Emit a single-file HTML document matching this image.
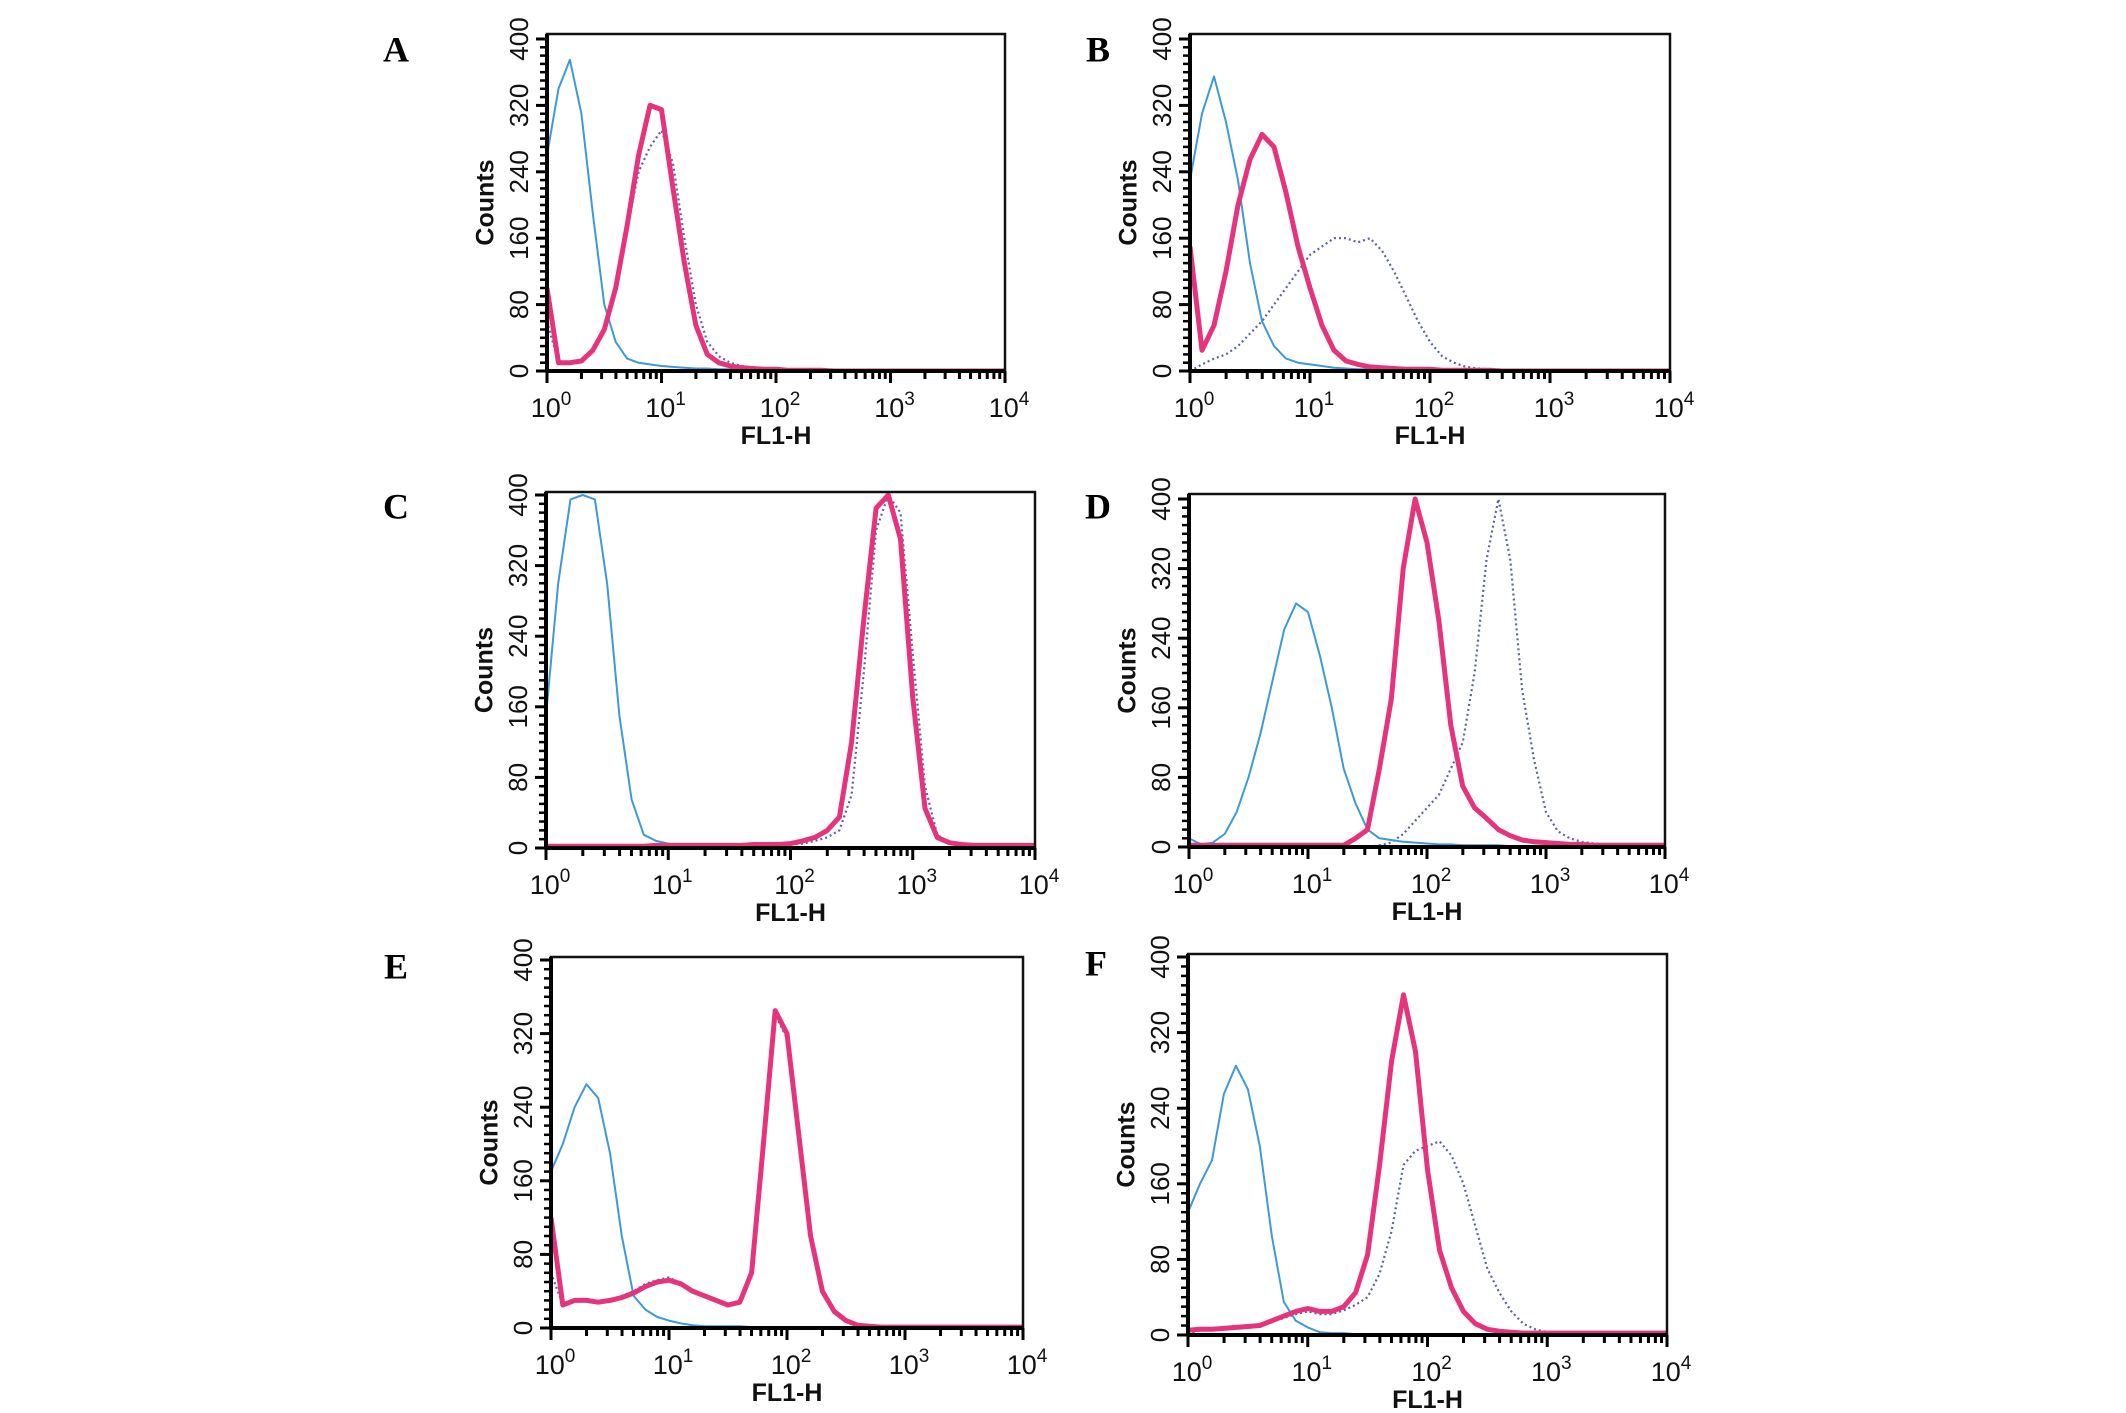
<!DOCTYPE html>
<html><head><meta charset="utf-8"><style>
html,body{margin:0;padding:0;background:#fff;}
svg{display:block;}
</style></head><body>
<svg id="fig" width="2126" height="1413" viewBox="0 0 2126 1413" xmlns="http://www.w3.org/2000/svg"></svg>
<script>
// x bins (log10 FL1-H) 0.0 .. 4.0 step 0.1
const binLogs = [0,0.1,0.2,0.3,0.4,0.5,0.6,0.7,0.8,0.9,1.0,1.1,1.2,1.3,1.4,1.5,1.6,1.7,1.8,1.9,2.0,2.1,2.2,2.3,2.4,2.5,2.6,2.7,2.8,2.9,3.0,3.1,3.2,3.3,3.4,3.5,3.6,3.7,3.8,3.9,4.0];
const yTickLabels = [0,80,160,240,320,400];
const xTickExps = [0,1,2,3,4];
const panelLetters = ["A","B","C","D","E","F"];

const blueA = [260,340,375,310,190,80,35,15,10,8,6,5,4,3,3,2,2,2,1,1,1,1,1,1,0,0,0,0,0,0,0,0,0,0,0,0,0,0,0,0,0];
const pinkA = [100,10,10,12,25,50,100,175,260,320,315,220,130,55,20,10,6,4,3,2,2,1,1,1,1,0,0,0,0,0,0,0,0,0,0,0,0,0,0,0,0];
const dotA  = [60,10,10,12,25,50,100,170,240,270,290,250,160,80,35,18,10,6,4,3,2,2,1,1,1,1,0,0,0,0,0,0,0,0,0,0,0,0,0,0,0];

const blueB = [230,310,355,300,230,130,60,30,15,10,8,6,4,3,2,2,2,2,2,2,2,1,1,1,1,1,1,1,1,1,1,1,1,1,1,1,1,1,1,1,1];
const pinkB = [150,25,55,120,200,255,285,270,215,150,100,55,25,12,8,5,4,3,2,2,2,1,1,1,1,1,0,0,0,0,0,0,0,0,0,0,0,0,0,0,0];
const dotB  = [0,8,15,20,30,45,60,80,100,120,140,150,160,160,155,160,145,120,90,60,35,18,10,5,3,2,1,1,1,1,1,1,1,1,1,1,1,1,1,1,1];

const blueC = [150,300,395,400,395,300,150,55,15,8,5,3,2,1,1,1,1,1,1,1,1,1,1,1,1,1,1,1,1,1,1,1,1,1,1,1,0,0,0,0,0];
const pinkC = [2,2,2,2,2,2,2,2,2,3,3,3,3,3,3,3,3,4,4,4,5,8,12,20,35,120,260,385,400,350,170,45,12,6,4,3,3,3,3,3,3];
const dotC  = [1,1,1,1,1,1,1,1,1,2,2,2,2,2,2,2,2,3,3,3,4,5,8,12,20,60,200,360,400,380,220,70,15,6,4,3,2,2,2,2,2];

const blueD = [10,3,5,15,40,80,130,190,250,280,270,220,160,90,50,20,10,8,6,5,4,3,3,2,2,2,2,1,1,1,1,1,1,1,1,0,0,0,0,0,0];
const pinkD = [2,2,2,2,2,2,2,2,2,2,2,2,2,2,10,20,90,170,320,400,350,260,140,70,45,33,20,13,8,6,5,4,3,3,2,2,2,2,2,2,2];
const dotD  = [0,0,0,0,0,0,0,0,0,0,0,0,0,0,0,0,2,5,15,30,45,60,90,120,200,330,400,330,180,100,40,18,10,6,4,3,2,2,1,1,1];

const blueE = [170,200,240,265,250,190,100,35,20,12,8,5,3,2,2,2,2,1,1,1,1,1,1,1,1,1,0,0,0,0,0,0,0,0,0,0,0,0,0,0,0];
const pinkE = [120,25,30,30,28,30,33,38,45,50,52,48,40,35,30,25,28,60,200,345,320,210,100,40,18,8,3,2,1,1,1,1,1,1,1,1,1,1,1,1,1];
const dotE  = [60,25,30,32,28,30,35,40,48,52,55,48,42,35,30,25,30,65,205,340,315,205,95,38,16,8,3,2,1,1,1,1,1,1,1,1,1,1,1,1,1];

const blueF = [130,160,185,255,285,260,200,105,35,15,8,3,2,2,1,1,1,1,1,1,1,1,1,1,1,1,1,1,0,0,0,0,0,0,0,0,0,0,0,0,0];
const pinkF = [5,6,6,7,8,9,10,15,20,25,28,25,25,30,45,85,180,290,360,300,175,90,50,25,12,6,4,3,2,2,2,2,2,2,2,2,2,2,2,2,2];
const dotF  = [0,5,5,6,8,9,10,14,18,22,25,22,22,26,32,40,65,110,180,195,200,205,190,160,115,70,45,25,12,6,3,2,2,2,2,2,2,2,2,2,2];

const panelBlue = [blueA,blueB,blueC,blueD,blueE,blueF];
const panelPink = [pinkA,pinkB,pinkC,pinkD,pinkE,pinkF];
const panelDot  = [dotA,dotB,dotC,dotD,dotE,dotF];

const geo = [
  {l:547,r:1005,t:34,b:371,y4:39,lx:396,ly:53},
  {l:1190,r:1670,t:34,b:371,y4:39,lx:1098,ly:53},
  {l:546,r:1035,t:492,b:848,y4:495,lx:396,ly:510},
  {l:1189,r:1665,t:494,b:847,y4:499,lx:1098,ly:510},
  {l:551,r:1023,t:957,b:1328,y4:960,lx:396,ly:970},
  {l:1188,r:1667,t:954,b:1335,y4:957,lx:1096,ly:967}
];

const NS = "http://www.w3.org/2000/svg";
const svg = document.getElementById('fig');
function mk(tag, attrs, parent){
  const e = document.createElementNS(NS, tag);
  for (const k in attrs) e.setAttribute(k, attrs[k]);
  (parent||svg).appendChild(e);
  return e;
}

geo.forEach((g, p) => {
  const grp = mk('g', {});
  
  
  const xs = v => g.l + (v/4)*(g.r - g.l);
  const ys = c => g.b - (Math.min(c,400)/400)*(g.b - g.y4);

  const lt = mk('text', {x:g.lx, y:g.ly, 'font-family':'"Liberation Serif", serif', 'font-weight':'bold', 'font-size':'36', 'text-anchor':'middle', 'dominant-baseline':'middle', fill:'#000'}, grp);
  lt.textContent = panelLetters[p];
  
  

  const cp = mk('clipPath', {id:'clip'+p}, grp);
  mk('rect', {x:g.l, y:g.t, width:g.r-g.l, height:g.b-g.t+2}, cp);

  const series = [[panelDot[p], '#5a63a8', 2.2, '2,3', 'dotted-histogram'],
                  [panelBlue[p], '#3d9ad6', 2, null, 'control-histogram'],
                  [panelPink[p], '#e6347c', 5, null, 'treated-histogram']];
  series.forEach(s => {
    const pts = binLogs.map((v,i) => xs(v).toFixed(1) + ',' + ys(s[0][i]).toFixed(1)).join(' ');
    const pl = mk('polyline', {points:pts, fill:'none', stroke:s[1], 'stroke-width':s[2], 'stroke-linejoin':'round', 'clip-path':'url(#clip'+p+')'}, grp);
    if (s[3]) pl.setAttribute('stroke-dasharray', s[3]);
    
    
  });

  const fr = mk('rect', {x:g.l, y:g.t, width:g.r-g.l, height:g.b-g.t, fill:'none', stroke:'#111', 'stroke-width':2.5}, grp);
  
  
  mk('line', {x1:g.l, y1:g.t, x2:g.l, y2:g.b, stroke:'#000', 'stroke-width':4}, grp);
  mk('line', {x1:g.l, y1:g.b, x2:g.r, y2:g.b, stroke:'#000', 'stroke-width':4}, grp);

  for (let c = 0; c <= 400; c += 10) {
    const major = c % 80 === 0;
    mk('line', {x1:g.l - (major?11:7), y1:ys(c), x2:g.l, y2:ys(c), stroke:'#000', 'stroke-width':major?3:2.5}, grp);
  }
  yTickLabels.forEach(c => {
    const y = ys(c), x = g.l - 26;
    const t = mk('text', {x:x, y:y, transform:`rotate(-90 ${x} ${y})`, 'font-family':'"Liberation Sans", sans-serif', 'font-size':'26', 'text-anchor':'middle', 'dominant-baseline':'middle', fill:'#111'}, grp);
    t.textContent = c;
    
    
  });
  const cy = (g.t + g.b)/2, cx = g.l - 60;
  const ct = mk('text', {x:cx, y:cy, transform:`rotate(-90 ${cx} ${cy})`, 'font-family':'"Liberation Sans", sans-serif', 'font-weight':'bold', 'font-size':'25', 'text-anchor':'middle', 'dominant-baseline':'middle', fill:'#111'}, grp);
  ct.textContent = 'Counts';
  
  

  for (let d = 0; d < 4; d++) {
    for (let k = 1; k <= 9; k++) {
      const v = d + Math.log10(k);
      mk('line', {x1:xs(v), y1:g.b, x2:xs(v), y2:g.b + (k===1?12:8), stroke:'#000', 'stroke-width':3}, grp);
    }
  }
  mk('line', {x1:xs(4), y1:g.b, x2:xs(4), y2:g.b+12, stroke:'#000', 'stroke-width':3}, grp);
  xTickExps.forEach(e => {
    const t = mk('text', {x:xs(e)+4, y:g.b + 46, 'font-family':'"Liberation Sans", sans-serif', 'font-size':'27', 'text-anchor':'middle', fill:'#111'}, grp);
    
    
    t.appendChild(document.createTextNode('10'));
    const sp = mk('tspan', {'font-size':'19', dy:'-12'}, t);
    sp.textContent = e;
  });
  const xt = mk('text', {x:(g.l+g.r)/2, y:g.b + 73, 'font-family':'"Liberation Sans", sans-serif', 'font-weight':'bold', 'font-size':'25', 'text-anchor':'middle', fill:'#111'}, grp);
  xt.textContent = 'FL1-H';
  
  
});
</script>
</body></html>
